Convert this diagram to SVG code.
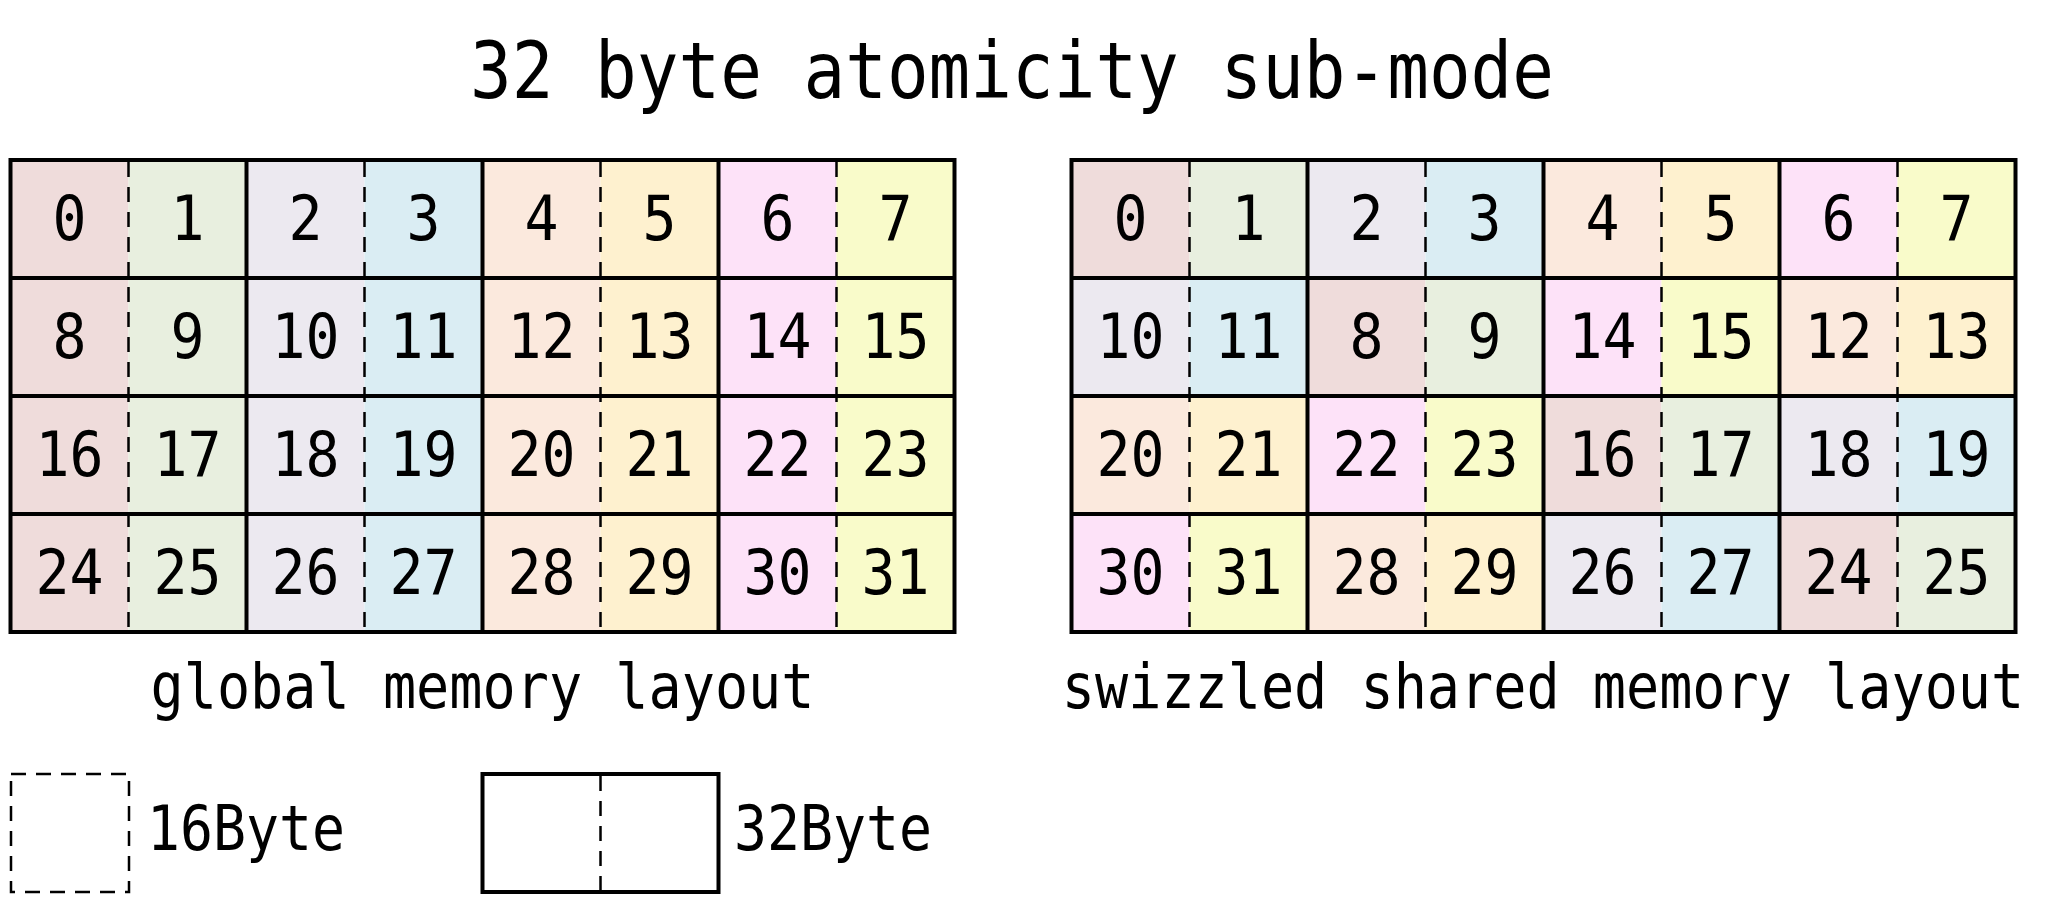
<svg xmlns="http://www.w3.org/2000/svg" width="2063" height="900" viewBox="0 0 2063 900">
<style>
.k0{fill:#efdcdb}.k1{fill:#e8efdf}.k2{fill:#ece9f0}.k3{fill:#daedf3}
.k4{fill:#fbe9dd}.k5{fill:#fef1cf}.k6{fill:#fde2f8}.k7{fill:#f9fbca}
.n{font-family:"DejaVu Sans Mono","Liberation Mono",monospace;font-size:63px;text-anchor:middle;fill:#000}
.t{font-family:"DejaVu Sans Mono","Liberation Mono",monospace;fill:#000}
.solid{fill:none;stroke:#000;stroke-width:4}
.dash{fill:none;stroke:#000;stroke-width:2.5;stroke-dasharray:15 10}
</style>
<rect width="2063" height="900" fill="#fff"/>
<text id="title" class="t" x="1012" y="98" font-size="78" text-anchor="middle" textLength="1084" lengthAdjust="spacingAndGlyphs">32 byte atomicity sub-mode</text>

<g id="global-layout">
<g id="g0"><rect class="k0" x="10.5" y="160" width="118" height="118"/><text class="n" x="69.5" y="240" textLength="34" lengthAdjust="spacingAndGlyphs">0</text></g>
<g id="g1"><rect class="k1" x="128.5" y="160" width="118" height="118"/><text class="n" x="187.5" y="240" textLength="34" lengthAdjust="spacingAndGlyphs">1</text></g>
<g id="g2"><rect class="k2" x="246.5" y="160" width="118" height="118"/><text class="n" x="305.5" y="240" textLength="34" lengthAdjust="spacingAndGlyphs">2</text></g>
<g id="g3"><rect class="k3" x="364.5" y="160" width="118" height="118"/><text class="n" x="423.5" y="240" textLength="34" lengthAdjust="spacingAndGlyphs">3</text></g>
<g id="g4"><rect class="k4" x="482.5" y="160" width="118" height="118"/><text class="n" x="541.5" y="240" textLength="34" lengthAdjust="spacingAndGlyphs">4</text></g>
<g id="g5"><rect class="k5" x="600.5" y="160" width="118" height="118"/><text class="n" x="659.5" y="240" textLength="34" lengthAdjust="spacingAndGlyphs">5</text></g>
<g id="g6"><rect class="k6" x="718.5" y="160" width="118" height="118"/><text class="n" x="777.5" y="240" textLength="34" lengthAdjust="spacingAndGlyphs">6</text></g>
<g id="g7"><rect class="k7" x="836.5" y="160" width="118" height="118"/><text class="n" x="895.5" y="240" textLength="34" lengthAdjust="spacingAndGlyphs">7</text></g>

<g id="g8"><rect class="k0" x="10.5" y="278" width="118" height="118"/><text class="n" x="69.5" y="358" textLength="34" lengthAdjust="spacingAndGlyphs">8</text></g>
<g id="g9"><rect class="k1" x="128.5" y="278" width="118" height="118"/><text class="n" x="187.5" y="358" textLength="34" lengthAdjust="spacingAndGlyphs">9</text></g>
<g id="g10"><rect class="k2" x="246.5" y="278" width="118" height="118"/><text class="n" x="305.5" y="358" textLength="68" lengthAdjust="spacingAndGlyphs">10</text></g>
<g id="g11"><rect class="k3" x="364.5" y="278" width="118" height="118"/><text class="n" x="423.5" y="358" textLength="68" lengthAdjust="spacingAndGlyphs">11</text></g>
<g id="g12"><rect class="k4" x="482.5" y="278" width="118" height="118"/><text class="n" x="541.5" y="358" textLength="68" lengthAdjust="spacingAndGlyphs">12</text></g>
<g id="g13"><rect class="k5" x="600.5" y="278" width="118" height="118"/><text class="n" x="659.5" y="358" textLength="68" lengthAdjust="spacingAndGlyphs">13</text></g>
<g id="g14"><rect class="k6" x="718.5" y="278" width="118" height="118"/><text class="n" x="777.5" y="358" textLength="68" lengthAdjust="spacingAndGlyphs">14</text></g>
<g id="g15"><rect class="k7" x="836.5" y="278" width="118" height="118"/><text class="n" x="895.5" y="358" textLength="68" lengthAdjust="spacingAndGlyphs">15</text></g>

<g id="g16"><rect class="k0" x="10.5" y="396" width="118" height="118"/><text class="n" x="69.5" y="476" textLength="68" lengthAdjust="spacingAndGlyphs">16</text></g>
<g id="g17"><rect class="k1" x="128.5" y="396" width="118" height="118"/><text class="n" x="187.5" y="476" textLength="68" lengthAdjust="spacingAndGlyphs">17</text></g>
<g id="g18"><rect class="k2" x="246.5" y="396" width="118" height="118"/><text class="n" x="305.5" y="476" textLength="68" lengthAdjust="spacingAndGlyphs">18</text></g>
<g id="g19"><rect class="k3" x="364.5" y="396" width="118" height="118"/><text class="n" x="423.5" y="476" textLength="68" lengthAdjust="spacingAndGlyphs">19</text></g>
<g id="g20"><rect class="k4" x="482.5" y="396" width="118" height="118"/><text class="n" x="541.5" y="476" textLength="68" lengthAdjust="spacingAndGlyphs">20</text></g>
<g id="g21"><rect class="k5" x="600.5" y="396" width="118" height="118"/><text class="n" x="659.5" y="476" textLength="68" lengthAdjust="spacingAndGlyphs">21</text></g>
<g id="g22"><rect class="k6" x="718.5" y="396" width="118" height="118"/><text class="n" x="777.5" y="476" textLength="68" lengthAdjust="spacingAndGlyphs">22</text></g>
<g id="g23"><rect class="k7" x="836.5" y="396" width="118" height="118"/><text class="n" x="895.5" y="476" textLength="68" lengthAdjust="spacingAndGlyphs">23</text></g>

<g id="g24"><rect class="k0" x="10.5" y="514" width="118" height="118"/><text class="n" x="69.5" y="594" textLength="68" lengthAdjust="spacingAndGlyphs">24</text></g>
<g id="g25"><rect class="k1" x="128.5" y="514" width="118" height="118"/><text class="n" x="187.5" y="594" textLength="68" lengthAdjust="spacingAndGlyphs">25</text></g>
<g id="g26"><rect class="k2" x="246.5" y="514" width="118" height="118"/><text class="n" x="305.5" y="594" textLength="68" lengthAdjust="spacingAndGlyphs">26</text></g>
<g id="g27"><rect class="k3" x="364.5" y="514" width="118" height="118"/><text class="n" x="423.5" y="594" textLength="68" lengthAdjust="spacingAndGlyphs">27</text></g>
<g id="g28"><rect class="k4" x="482.5" y="514" width="118" height="118"/><text class="n" x="541.5" y="594" textLength="68" lengthAdjust="spacingAndGlyphs">28</text></g>
<g id="g29"><rect class="k5" x="600.5" y="514" width="118" height="118"/><text class="n" x="659.5" y="594" textLength="68" lengthAdjust="spacingAndGlyphs">29</text></g>
<g id="g30"><rect class="k6" x="718.5" y="514" width="118" height="118"/><text class="n" x="777.5" y="594" textLength="68" lengthAdjust="spacingAndGlyphs">30</text></g>
<g id="g31"><rect class="k7" x="836.5" y="514" width="118" height="118"/><text class="n" x="895.5" y="594" textLength="68" lengthAdjust="spacingAndGlyphs">31</text></g>
</g>

<g id="shared-layout">
<g id="s0"><rect class="k0" x="1071.5" y="160" width="118" height="118"/><text class="n" x="1130.5" y="240" textLength="34" lengthAdjust="spacingAndGlyphs">0</text></g>
<g id="s1"><rect class="k1" x="1189.5" y="160" width="118" height="118"/><text class="n" x="1248.5" y="240" textLength="34" lengthAdjust="spacingAndGlyphs">1</text></g>
<g id="s2"><rect class="k2" x="1307.5" y="160" width="118" height="118"/><text class="n" x="1366.5" y="240" textLength="34" lengthAdjust="spacingAndGlyphs">2</text></g>
<g id="s3"><rect class="k3" x="1425.5" y="160" width="118" height="118"/><text class="n" x="1484.5" y="240" textLength="34" lengthAdjust="spacingAndGlyphs">3</text></g>
<g id="s4"><rect class="k4" x="1543.5" y="160" width="118" height="118"/><text class="n" x="1602.5" y="240" textLength="34" lengthAdjust="spacingAndGlyphs">4</text></g>
<g id="s5"><rect class="k5" x="1661.5" y="160" width="118" height="118"/><text class="n" x="1720.5" y="240" textLength="34" lengthAdjust="spacingAndGlyphs">5</text></g>
<g id="s6"><rect class="k6" x="1779.5" y="160" width="118" height="118"/><text class="n" x="1838.5" y="240" textLength="34" lengthAdjust="spacingAndGlyphs">6</text></g>
<g id="s7"><rect class="k7" x="1897.5" y="160" width="118" height="118"/><text class="n" x="1956.5" y="240" textLength="34" lengthAdjust="spacingAndGlyphs">7</text></g>

<g id="s10"><rect class="k2" x="1071.5" y="278" width="118" height="118"/><text class="n" x="1130.5" y="358" textLength="68" lengthAdjust="spacingAndGlyphs">10</text></g>
<g id="s11"><rect class="k3" x="1189.5" y="278" width="118" height="118"/><text class="n" x="1248.5" y="358" textLength="68" lengthAdjust="spacingAndGlyphs">11</text></g>
<g id="s8"><rect class="k0" x="1307.5" y="278" width="118" height="118"/><text class="n" x="1366.5" y="358" textLength="34" lengthAdjust="spacingAndGlyphs">8</text></g>
<g id="s9"><rect class="k1" x="1425.5" y="278" width="118" height="118"/><text class="n" x="1484.5" y="358" textLength="34" lengthAdjust="spacingAndGlyphs">9</text></g>
<g id="s14"><rect class="k6" x="1543.5" y="278" width="118" height="118"/><text class="n" x="1602.5" y="358" textLength="68" lengthAdjust="spacingAndGlyphs">14</text></g>
<g id="s15"><rect class="k7" x="1661.5" y="278" width="118" height="118"/><text class="n" x="1720.5" y="358" textLength="68" lengthAdjust="spacingAndGlyphs">15</text></g>
<g id="s12"><rect class="k4" x="1779.5" y="278" width="118" height="118"/><text class="n" x="1838.5" y="358" textLength="68" lengthAdjust="spacingAndGlyphs">12</text></g>
<g id="s13"><rect class="k5" x="1897.5" y="278" width="118" height="118"/><text class="n" x="1956.5" y="358" textLength="68" lengthAdjust="spacingAndGlyphs">13</text></g>

<g id="s20"><rect class="k4" x="1071.5" y="396" width="118" height="118"/><text class="n" x="1130.5" y="476" textLength="68" lengthAdjust="spacingAndGlyphs">20</text></g>
<g id="s21"><rect class="k5" x="1189.5" y="396" width="118" height="118"/><text class="n" x="1248.5" y="476" textLength="68" lengthAdjust="spacingAndGlyphs">21</text></g>
<g id="s22"><rect class="k6" x="1307.5" y="396" width="118" height="118"/><text class="n" x="1366.5" y="476" textLength="68" lengthAdjust="spacingAndGlyphs">22</text></g>
<g id="s23"><rect class="k7" x="1425.5" y="396" width="118" height="118"/><text class="n" x="1484.5" y="476" textLength="68" lengthAdjust="spacingAndGlyphs">23</text></g>
<g id="s16"><rect class="k0" x="1543.5" y="396" width="118" height="118"/><text class="n" x="1602.5" y="476" textLength="68" lengthAdjust="spacingAndGlyphs">16</text></g>
<g id="s17"><rect class="k1" x="1661.5" y="396" width="118" height="118"/><text class="n" x="1720.5" y="476" textLength="68" lengthAdjust="spacingAndGlyphs">17</text></g>
<g id="s18"><rect class="k2" x="1779.5" y="396" width="118" height="118"/><text class="n" x="1838.5" y="476" textLength="68" lengthAdjust="spacingAndGlyphs">18</text></g>
<g id="s19"><rect class="k3" x="1897.5" y="396" width="118" height="118"/><text class="n" x="1956.5" y="476" textLength="68" lengthAdjust="spacingAndGlyphs">19</text></g>

<g id="s30"><rect class="k6" x="1071.5" y="514" width="118" height="118"/><text class="n" x="1130.5" y="594" textLength="68" lengthAdjust="spacingAndGlyphs">30</text></g>
<g id="s31"><rect class="k7" x="1189.5" y="514" width="118" height="118"/><text class="n" x="1248.5" y="594" textLength="68" lengthAdjust="spacingAndGlyphs">31</text></g>
<g id="s28"><rect class="k4" x="1307.5" y="514" width="118" height="118"/><text class="n" x="1366.5" y="594" textLength="68" lengthAdjust="spacingAndGlyphs">28</text></g>
<g id="s29"><rect class="k5" x="1425.5" y="514" width="118" height="118"/><text class="n" x="1484.5" y="594" textLength="68" lengthAdjust="spacingAndGlyphs">29</text></g>
<g id="s26"><rect class="k2" x="1543.5" y="514" width="118" height="118"/><text class="n" x="1602.5" y="594" textLength="68" lengthAdjust="spacingAndGlyphs">26</text></g>
<g id="s27"><rect class="k3" x="1661.5" y="514" width="118" height="118"/><text class="n" x="1720.5" y="594" textLength="68" lengthAdjust="spacingAndGlyphs">27</text></g>
<g id="s24"><rect class="k0" x="1779.5" y="514" width="118" height="118"/><text class="n" x="1838.5" y="594" textLength="68" lengthAdjust="spacingAndGlyphs">24</text></g>
<g id="s25"><rect class="k1" x="1897.5" y="514" width="118" height="118"/><text class="n" x="1956.5" y="594" textLength="68" lengthAdjust="spacingAndGlyphs">25</text></g>
</g>

<g id="grid-lines">
<path class="dash" d="M128.5 162V630M364.5 162V630M600.5 162V630M836.5 162V630"/>
<path class="solid" d="M246.5 160V632M482.5 160V632M718.5 160V632M10.5 278H954.5M10.5 396H954.5M10.5 514H954.5"/>
<rect class="solid" x="10.5" y="160" width="944" height="472"/>
<path class="dash" d="M1189.5 162V630M1425.5 162V630M1661.5 162V630M1897.5 162V630"/>
<path class="solid" d="M1307.5 160V632M1543.5 160V632M1779.5 160V632M1071.5 278H2015.5M1071.5 396H2015.5M1071.5 514H2015.5"/>
<rect class="solid" x="1071.5" y="160" width="944" height="472"/>
</g>

<text id="label-global" class="t" x="482.5" y="708" font-size="63" text-anchor="middle" textLength="664" lengthAdjust="spacingAndGlyphs">global memory layout</text>
<text id="label-shared" class="t" transform="translate(1543 708) scale(0.875 1)" x="0" y="0" font-size="63" text-anchor="middle">swizzled shared memory layout</text>

<g id="legend-16">
<rect class="dash" x="11" y="774" width="118" height="118"/>
<text class="t" x="147" y="850" font-size="62" textLength="198" lengthAdjust="spacingAndGlyphs">16Byte</text>
</g>
<g id="legend-32">
<rect class="solid" x="482.5" y="774" width="236" height="118"/>
<path class="dash" d="M600.5 776V890"/>
<text class="t" x="734" y="850" font-size="62" textLength="198" lengthAdjust="spacingAndGlyphs">32Byte</text>
</g>
</svg>
